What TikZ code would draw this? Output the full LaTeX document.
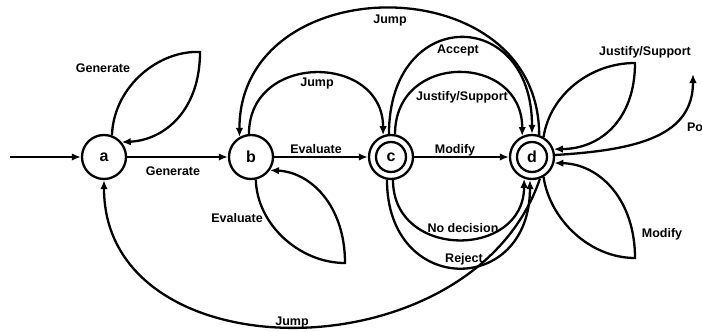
\documentclass[tikz,border=0pt]{standalone}
\usepackage{fontspec}
\setmainfont{Liberation Sans}
\usetikzlibrary{arrows.meta}

\begin{document}
\begin{tikzpicture}[x=1pt, y=-1pt, >={Latex[length=9pt,width=7.5pt]}, line width=2.3pt,
  state/.style={circle, draw, minimum size=44pt, inner sep=0pt,
                font=\fontsize{16}{16}\selectfont\bfseries},
  final/.style={state, path picture={\draw (path picture bounding box.center) circle (15pt);}},
  lbl/.style={inner sep=0pt, font=\fontsize{12.5}{14}\selectfont\bfseries}]
  \useasboundingbox (0,0) rectangle (702,332);

  % states
  \node[state] (a) at (104,157) {a};
  \node[state] (b) at (251,157) {b};
  \node[final] (c) at (391,157) {c};
  \node[final] (d) at (532,157) {d};
  \coordinate (start) at (10,157);
  \coordinate (pout) at (693,74);

  % straight edges
  \draw[->] (start) -- (a);
  \draw[->] (a) -- (b);
  \draw[->] (b) -- (c);
  \draw[->] (c) -- (d);

  % self loops
  \draw[->] (a.70) .. controls (114,85) and (160,50) .. (200,52)
                   .. controls (200,110) and (165,140) .. (a.40);
  \draw[->] (b.282) .. controls (257,225) and (300,263) .. (345,263)
                    .. controls (345,205) and (310,172) .. (b.325);
  \draw[->] (d.60) .. controls (550,95) and (590,63) .. (635,63)
                   .. controls (635,120) and (600,149) .. (d.20);
  \draw[->] (d.300) .. controls (550,220) and (590,258) .. (635,258)
                    .. controls (635,200) and (600,164) .. (d.345);
  \draw[->] (d.5) .. controls (640,150) and (693,135) .. (pout);

  % arcs above
  \draw[->] (b.95) .. controls +(0,-82) and +(0,-82) .. (c.110);
  \draw[->] (d.72) .. controls +(0,-170) and +(0,-170) .. (b.120);
  \draw[->] (c.95) .. controls +(0,-128) and +(0,-128) .. (d.90);
  \draw[->] (c.80) .. controls +(0,-83) and +(0,-83) .. (d.115);

  % arcs below
  \draw[->] (c.275) .. controls +(0,80) and +(0,80) .. (d.250);
  \draw[->] (c.260) .. controls +(0,117) and +(0,117) .. (d.265);
  \draw[->] (d.290) .. controls (473,376) and (104,376) .. (a.south);

  % labels
  \node[lbl] (l-ab) at (173,171) {Generate};
  \node[lbl] (l-bc) at (316,149) {Evaluate};
  \node[lbl] (l-cd) at (455,150) {Modify};
  \node[lbl] (l-aa) at (103,68) {Generate};
  \node[lbl] (l-bb) at (237,218) {Evaluate};
  \node[lbl] (l-jbc) at (317,83) {Jump};
  \node[lbl] (l-jdb) at (390,20) {Jump};
  \node[lbl] (l-acc) at (458,50) {Accept};
  \node[lbl] (l-jus) at (462,97) {Justify/Support};
  \node[lbl] (l-nod) at (463,228) {No decision};
  \node[lbl] (l-rej) at (464,259) {Reject};
  \node[lbl] (l-jda) at (292,322) {Jump};
  \node[lbl] (l-dj) at (645,52) {Justify/Support};
  \node[lbl] (l-dm) at (662,234) {Modify};
  \node[lbl, anchor=west] (l-po) at (686,127) {Po};
\end{tikzpicture}
\end{document}
